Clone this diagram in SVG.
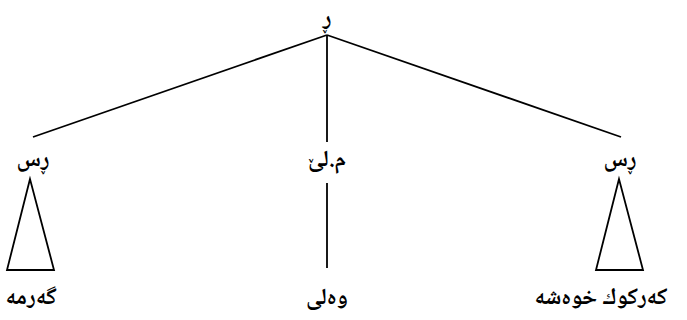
<svg xmlns="http://www.w3.org/2000/svg" width="687" height="320" viewBox="0 0 687 320">
<style>
text{font-family:"Noto Naskh Arabic","Amiri","DejaVu Sans",sans-serif;font-size:23px;font-weight:bold;fill:#000;text-anchor:middle;direction:rtl}
.e{stroke:#000;stroke-width:1.8;fill:none}
</style>
<rect width="687" height="320" fill="#fff"/>
<g id="connectors">
<line class="e" x1="327" y1="35" x2="33" y2="137"/>
<line class="e" x1="327" y1="35" x2="327" y2="142"/>
<line class="e" x1="327" y1="35" x2="621" y2="137"/>
<line class="e" x1="327" y1="183" x2="327" y2="268"/>
<polygon class="e" points="30,179 7,270 54,270"/>
<polygon class="e" points="619,179 596,270 643,270"/>
</g>
<g id="root"><text x="327" y="25">ڕ</text></g>
<g id="n1"><text x="33" y="166">ڕس</text></g>
<g id="n2"><text x="327" y="166">م.لێ</text></g>
<g id="n3"><text x="620" y="166">ڕس</text></g>
<g id="l1"><text x="31" y="304">گەرمە</text></g>
<g id="l2"><text x="327" y="304">وەلی</text></g>
<g id="l3"><text x="601" y="304">كەركوك خوەشە</text></g>
</svg>
